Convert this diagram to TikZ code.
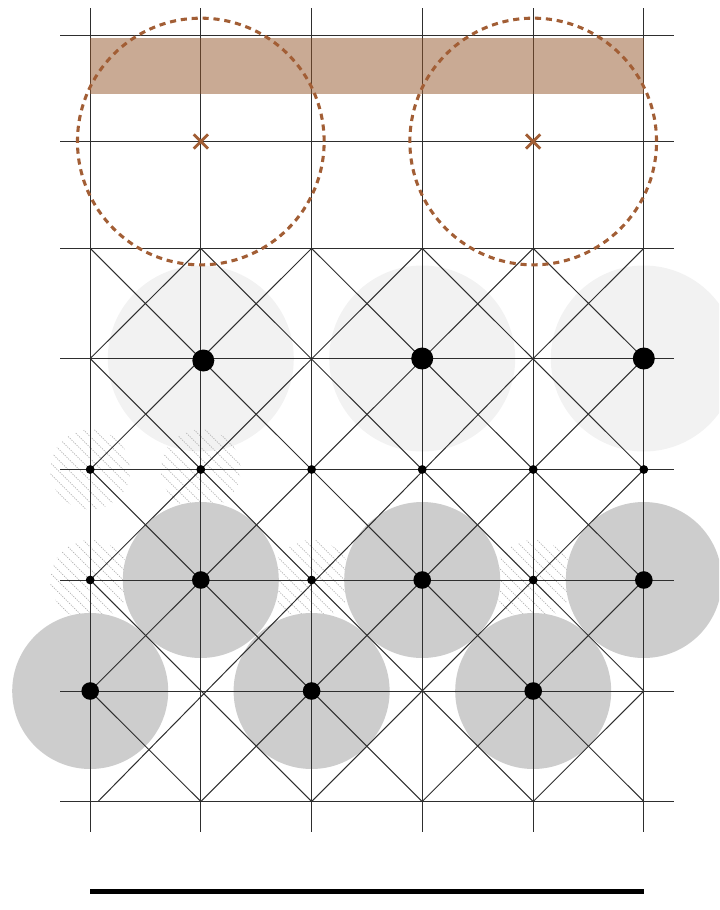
\documentclass[tikz,border=0pt]{standalone}
\usetikzlibrary{shapes.misc}
\definecolor{rust}{HTML}{A25E35}
\definecolor{band}{HTML}{93552A}
\tikzset{
  x=.75pt,y=-.75pt,
  gridline/.style={draw=black!82,line width=.76pt},
  diagline/.style={draw=black!82,line width=.76pt},
  hatchline/.style={draw=black!30,line width=.5pt,dash pattern=on .9pt off .9pt},
  pale/.style={circle,inner sep=0,minimum size=139.5pt,fill=black!5},
  mid/.style={circle,inner sep=0,minimum size=117pt,fill=black!19.5},
  ring/.style={circle,inner sep=0,minimum size=185pt,draw=rust,line width=2.3pt,dash pattern=on 4.6pt off 3.6pt},
  bigdot/.style={circle,inner sep=0,minimum size=16.5pt,fill=black},
  meddot/.style={circle,inner sep=0,minimum size=13.2pt,fill=black},
  smalldot/.style={circle,inner sep=0,minimum size=6.6pt,fill=black},
  xmark/.style={cross out,inner sep=0,minimum size=8.6pt,draw=rust,line width=2.1pt},
  bandfill/.style={fill=band,fill opacity=.5},
  scalebar/.style={draw=black,line width=4.3pt},
}
\begin{document}
\begin{tikzpicture}
\useasboundingbox (0,0) rectangle (719,910);
\clip (0,0) rectangle (719,910);
% grid coordinates
\foreach \n/\x in {0/90.2,1/200.8,2/311.6,3/422.2,4/533.2,5/643.8}{
  \foreach \m/\y in {0/35.5,1/141.5,2/248.4,3/358.5,4/469.5,5/580,6/691,7/801.5}{
    \coordinate (p\n\m) at (\x,\y);
  }
  \coordinate (vt\n) at (\x,8);
  \coordinate (vb\n) at (\x,832);
}
\foreach \m/\y in {0/35.5,1/141.5,2/248.4,3/358.5,4/469.5,5/580,6/691,7/801.5}{
  \coordinate (hl\m) at (60,\y);
  \coordinate (hr\m) at (674,\y);
}
% pale discs
\node[pale] (pa) at (p13) {};
\node[pale] (pb) at (p33) {};
\node[pale] (pc) at (p53) {};
% hatched discs
\foreach \n/\m in {0/4,1/4,0/5,2/5,4/5}{
  \begin{scope}[shift={(p\n\m)}]
    \clip (0,0) circle (30pt);
    \foreach \k in {-88,-77,...,88}{
      \draw[hatchline] (\k-50,-50) -- (\k+50,50);
    }
  \end{scope}
}
% mid-grey discs
\node[mid] (ma) at (p15) {};
\node[mid] (mb) at (p35) {};
\node[mid] (mc) at (p55) {};
\node[mid] (md) at (p06) {};
\node[mid] (me) at (p26) {};
\node[mid] (mf) at (p46) {};
% grid
\foreach \n in {0,...,5}{\draw[gridline] (vt\n) -- (vb\n);}
\foreach \m in {0,...,7}{\draw[gridline] (hl\m) -- (hr\m);}
% diagonals going down-right
\foreach \a/\b in {p02/p57,p12/p56,p22/p55,p32/p54,p42/p53,p03/p47,p04/p37,p05/p27,p06/p17}{
  \draw[diagline] (\a) -- (\b);
}
% diagonals going down-left
\foreach \a/\b in {p12/p03,p22/p04,p32/p05,p42/p06,p53/p17,p54/p27,p55/p37,p56/p47}{
  \draw[diagline] (\a) -- (\b);
}
\coordinate (foot) at (98,801.5);
\draw[diagline] (p52) -- (p43) -- (foot);
% band
\coordinate (bandA) at (90.2,38);
\coordinate (bandB) at (643.8,94);
\fill[bandfill] (bandA) rectangle (bandB);
% rings and crosses
\node[ring] (ra) at (p11) {};
\node[ring] (rb) at (p41) {};
\node[xmark] (xa) at (p11) {};
\node[xmark] (xb) at (p41) {};
% dots
\coordinate (off) at (203.3,360.5);
\node[bigdot] (b1) at (off) {};
\node[bigdot] (b2) at (p33) {};
\node[bigdot] (b3) at (p53) {};
\foreach \n in {0,...,5}{\node[smalldot] (s\n) at (p\n4) {};}
\node[smalldot] (t0) at (p05) {};
\node[smalldot] (t2) at (p25) {};
\node[smalldot] (t4) at (p45) {};
\node[meddot] (n1) at (p15) {};
\node[meddot] (n3) at (p35) {};
\node[meddot] (n5) at (p55) {};
\node[meddot] (n0) at (p06) {};
\node[meddot] (n2) at (p26) {};
\node[meddot] (n4) at (p46) {};
% scale bar
\coordinate (barL) at (90.2,891.5);
\coordinate (barR) at (643.8,891.5);
\draw[scalebar] (barL) -- (barR);
\end{tikzpicture}
\end{document}
